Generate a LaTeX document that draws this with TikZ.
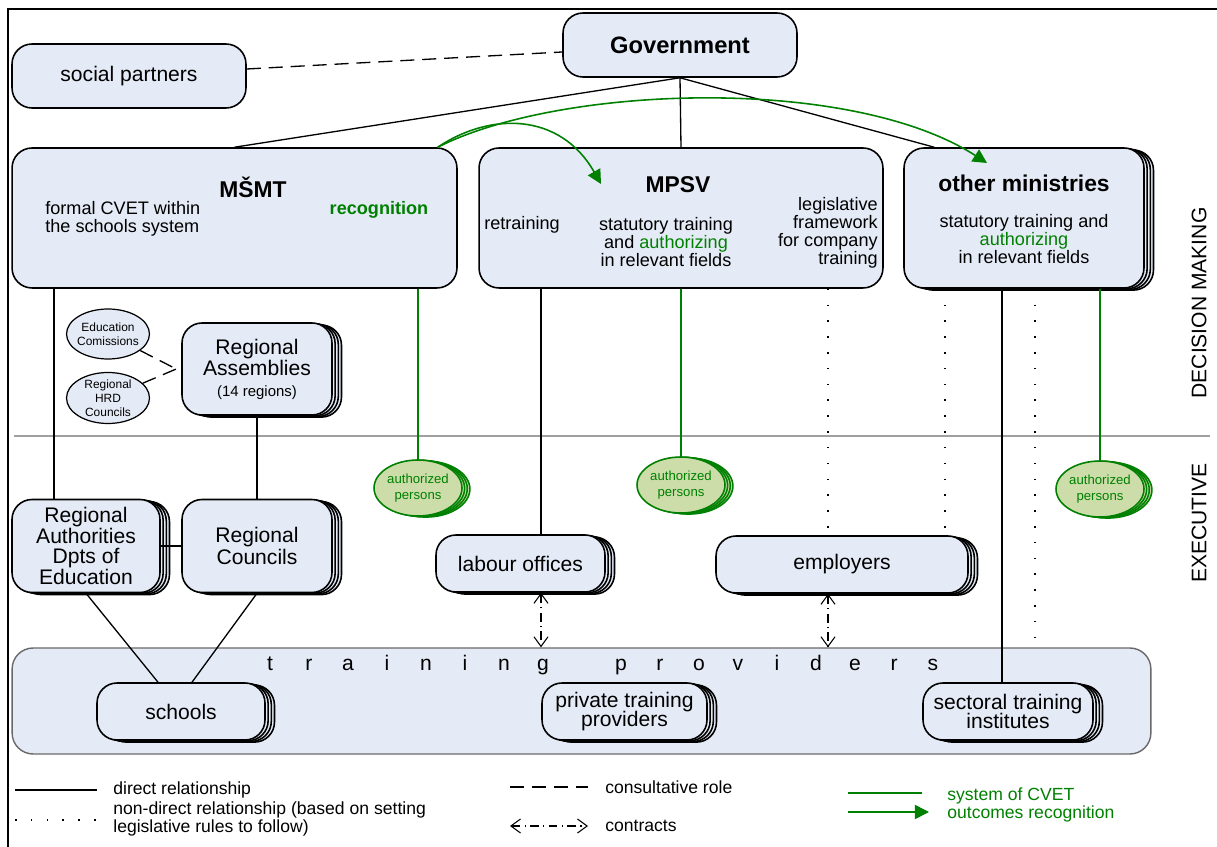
\documentclass[tikz,border=0pt]{standalone}
\usepackage{fontspec}
\setmainfont{Liberation Sans}
\usepackage{tikz}
\usetikzlibrary{arrows.meta,positioning,shapes.geometric,shadows}
\usepackage{xcolor}

\definecolor{boxfill}{RGB}{229,235,246}
\definecolor{recgreen}{RGB}{0,128,0}
\definecolor{apfill}{RGB}{204,221,170}
\definecolor{sepgrey}{RGB}{160,160,160}
\definecolor{tpgrey}{RGB}{105,105,105}

\tikzset{
	box/.style={draw, line width=0.9pt, fill=boxfill, rounded corners=0.4cm, align=center, inner sep=0pt, font=\fontsize{12}{12}\selectfont},
	stackbox/.style={box,
		copy shadow={fill=boxfill, draw=black, shadow xshift=5.4pt, shadow yshift=-1.2pt},
		copy shadow={fill=boxfill, draw=black, shadow xshift=3.6pt, shadow yshift=-0.8pt},
		copy shadow={fill=boxfill, draw=black, shadow xshift=1.8pt, shadow yshift=-0.4pt}},
	ell/.style={ellipse, draw, line width=0.7pt, fill=boxfill, minimum width=1.66cm, minimum height=1.0cm, inner sep=0pt},
	ap/.style={ellipse, draw=recgreen, line width=0.9pt, fill=apfill, minimum width=1.76cm, minimum height=1.12cm, inner sep=0pt,
		copy shadow={fill=apfill, draw=recgreen, shadow xshift=4.5pt, shadow yshift=-0.6pt},
		copy shadow={fill=apfill, draw=recgreen, shadow xshift=3pt, shadow yshift=-0.4pt},
		copy shadow={fill=apfill, draw=recgreen, shadow xshift=1.5pt, shadow yshift=-0.2pt}},
	govtext/.style={font=\fontsize{13.5}{14}\selectfont\bfseries},
	headtext/.style={inner sep=0pt, font=\fontsize{13}{14}\selectfont\bfseries},
	bodytext/.style={inner sep=0pt, align=center, font=\fontsize{10.3}{10.3}\selectfont},
	smalltext/.style={inner sep=0pt, align=center, font=\fontsize{6.8}{7.9}\selectfont},
	aptext/.style={inner sep=0pt, align=center, text=recgreen, font=\fontsize{7.5}{9}\selectfont},
	sidetext/.style={inner sep=0pt, rotate=90, font=\fontsize{12}{12}\selectfont},
	legtext/.style={inner sep=0pt, anchor=west, align=left, font=\fontsize{10}{9.2}\selectfont},
	line/.style={line width=0.75pt},
	dashline/.style={line width=0.75pt, dash pattern=on 8pt off 4.5pt},
	dotline/.style={line width=0.9pt, dash pattern=on 0.9pt off 8.1pt},
	contract/.style={line width=0.6pt, dash pattern=on 5pt off 2.5pt on 0.6pt off 2.5pt, {Straight Barb[length=5.5pt,width=8pt]}-{Straight Barb[length=5.5pt,width=8pt]}},
	recline/.style={line width=0.9pt, draw=recgreen},
	recarrow/.style={recline, -{Triangle[length=8pt,width=8pt]}, fill=none}
}

\begin{document}
\begin{tikzpicture}[x=0.02cm, y=-0.02cm]

	\useasboundingbox (0,0) rectangle (1217,847);
	\draw[line width=1.1pt] (8,847) -- (8,9) -- (1217,9);
	\draw[line width=0.7pt, sepgrey] (14,436) -- (1210,436);

	%government
	\node[box, minimum width=4.68cm, minimum height=1.28cm, govtext] (gov) at (680,45) {Government};
	%social partners
	\node[box, minimum width=4.68cm, minimum height=1.28cm] (sp) at (129,76) {social partners};

	%MSMT
	\node[box, minimum width=8.9cm, minimum height=2.8cm] (msmt) at (234.5,218) {};
	\node[headtext] (msmtt) at (253,187) {MŠMT};
	\node[bodytext, anchor=west, align=left] (msmtf) at (45,219) {formal CVET within\\the schools system};
	\node[bodytext, text=recgreen, font=\fontsize{10.3}{10.3}\selectfont\bfseries] (msmtr) at (379,210) {recognition};
	%MPSV
	\node[box, minimum width=8.08cm, minimum height=2.8cm] (mpsv) at (681,218) {};
	\node[headtext] (mpsvt) at (678,185) {MPSV};
	\node[bodytext] (mpsvr) at (522,225) {retraining};
	\node[bodytext] (mpsvs) at (666,242) {statutory training\\and \textcolor{recgreen}{authorizing}\\in relevant fields};
	\node[bodytext, anchor=east, align=right] (mpsvl) at (878,233) {legislative\\framework\\for company\\training};
	%other ministries
	\node[stackbox, minimum width=4.8cm, minimum height=2.8cm] (om) at (1024,218) {};
	\node[headtext] (omt) at (1024,183) {other ministries};
	\node[bodytext] (oms) at (1024,239) {statutory training and\\\textcolor{recgreen}{authorizing}\\in relevant fields};

	%education comissions
	\node[ell] (edc) at (108,334) {};
	\node[smalltext] (edct) at (edc) {Education\\Comissions};
	%regional HRD councils
	\node[ell, minimum height=1.02cm] (hrd) at (108,398) {};
	\node[smalltext] (hrdt) at (hrd) {Regional\\HRD\\Councils};
	%regional assemblies
	\node[stackbox, minimum width=3cm, minimum height=1.84cm] (ras) at (257,369) {Regional\\Assemblies\\{\fontsize{8.5}{10}\selectfont(14 regions)}};
	%regional authorities
	\node[stackbox, minimum width=2.96cm, minimum height=1.86cm, font=\fontsize{12}{11.7}\selectfont] (rauth) at (86,546) {Regional\\Authorities\\Dpts of\\Education};
	%regional councils
	\node[stackbox, minimum width=3cm, minimum height=1.86cm] (rc) at (257,546) {Regional\\Councils};

	%authorized persons
	\node[ap] (ap1) at (418,488) {};
	\node[aptext] (ap1t) at (ap1) {authorized\\persons};
	\node[ap] (ap2) at (681,485) {};
	\node[aptext] (ap2t) at (ap2) {authorized\\persons};
	\node[ap] (ap3) at (1100,489) {};
	\node[aptext] (ap3t) at (ap3) {authorized\\persons};

	%labour offices
	\node[stackbox, minimum width=3.38cm, minimum height=1.14cm] (lo) at (520.5,563.5) {labour offices};
	%employers
	\node[stackbox, minimum width=5.04cm, minimum height=1.14cm] (emp) at (842,564.5) {employers};

	%training providers
	\node[box, draw=tpgrey, line width=0.8pt, rounded corners=0.42cm, minimum width=22.78cm, minimum height=2.12cm] (tp) at (581.5,701) {};
	\foreach \l/\k in {t/0,r/1,a/2,i/3,n/4,i/5,n/6,g/7,p/9,r/10,o/11,v/12,i/13,d/14,e/15,r/16,s/17}
		\node[inner sep=0pt, anchor=base, font=\fontsize{12}{12}\selectfont] (tpl\k) at (270+39*\k,670) {\l};
	%schools
	\node[stackbox, minimum width=3.36cm, minimum height=1.14cm] (sch) at (181,711.5) {schools};
	%private training providers
	\node[stackbox, minimum width=3.3cm, minimum height=1.14cm, font=\fontsize{12}{11.3}\selectfont] (ptp) at (624.5,711.5) {private training\\providers};
	%sectoral training institutes
	\node[stackbox, minimum width=3.4cm, minimum height=1.14cm, font=\fontsize{12}{11.3}\selectfont] (sti) at (1008,711.5) {sectoral training\\institutes};

	%side labels
	\node[sidetext] (dm) at (1199,303) {DECISION MAKING};
	\node[sidetext] (ex) at (1199,523) {EXECUTIVE};


	\draw[dashline] ([yshift=0.14cm]sp.east) -- ([yshift=-0.14cm]gov.west);
	\draw[line] (gov.south) -- (msmt.north);
	\draw[line] (gov.south) -- (mpsv.north);
	\draw[line] (gov.south) -- ([xshift=0.62cm]om.north west);

	\coordinate (recmpsv) at (601,184);
	\coordinate (recom) at (987,163);
	\draw[recarrow] ([xshift=-0.4cm]msmt.north east) .. controls (490,112) and (560,112) .. (recmpsv);
	\draw[recarrow] ([xshift=-0.4cm]msmt.north east) .. controls (560,85) and (850,75) .. (recom);

	\draw[dashline] (edc) -- ([xshift=-0.1cm]ras.west);
	\draw[dashline] (hrd) -- ([xshift=-0.1cm]ras.west);
	\draw[line] ([xshift=-0.64cm]rauth.north |- msmt.south) -- ([xshift=-0.64cm]rauth.north);
	\draw[line] (ras.south) -- (rc.north);
	\draw[line] (rauth.east) -- (rc.west);
	\draw[line] (rauth.south) -- ([xshift=-0.46cm]sch.north);
	\draw[line] (rc.south) -- ([xshift=0.22cm]sch.north);

	\draw[recline] (ap1.north |- msmt.south) -- (ap1.north);
	\draw[recline] (ap2.north |- mpsv.south) -- (ap2.north);
	\draw[recline] (ap3.north |- om.south) -- (ap3.north);

	\draw[line] ([xshift=0.41cm]lo.north |- mpsv.south) -- ([xshift=0.41cm]lo.north);
	\draw[dotline] ([xshift=-0.28cm]emp.north |- mpsv.south) -- ([xshift=-0.28cm]emp.north);
	\draw[dotline] ([xshift=2.06cm]emp.north |- om.south) -- ([xshift=2.06cm]emp.north);
	\draw[dotline] ([xshift=0.22cm]om.south) -- ([xshift=0.22cm]om.south |- tp.north);
	\draw[line] ([xshift=-0.12cm]sti.north |- om.south) -- ([xshift=-0.12cm]sti.north);

	\draw[contract] ([xshift=0.41cm]lo.south) -- ([xshift=0.41cm]lo.south |- tp.north);
	\draw[contract] ([xshift=-0.28cm]emp.south) -- ([xshift=-0.28cm]emp.south |- tp.north);

	%legend
	\draw[line] (15,790) -- (97,790);
	\node[legtext] (lg1) at (113,790) {direct relationship};
	\draw[dotline] (15,820) -- (97,820);
	\node[legtext] (lg2) at (113,819) {non-direct relationship (based on setting\\legislative rules to follow)};
	\draw[dashline] (510,787) -- (588,787);
	\node[legtext] (lg3) at (605,787) {consultative role};
	\draw[contract] (510,826) -- (588,826);
	\node[legtext] (lg4) at (605,826) {contracts};
	\draw[recline] (848,793) -- (922,793);
	\draw[recarrow] (848,812) -- (929,812);
	\node[legtext, text=recgreen, font=\fontsize{10}{10.2}\selectfont] (lg5) at (947,805) {system of CVET\\outcomes recognition};

\end{tikzpicture}
\end{document}
